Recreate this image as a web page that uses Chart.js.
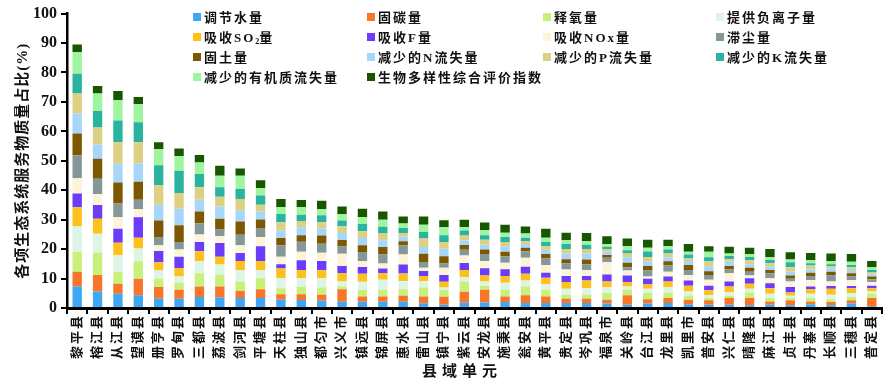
<!DOCTYPE html>
<html>
<head>
<meta charset="utf-8">
<script src="https://cdn.jsdelivr.net/npm/chart.js@4.4.1/dist/chart.umd.min.js"></script>
<style>
  html, body { margin: 0; padding: 0; background: #fff; }
  #wrap { position: relative; width: 894px; height: 381px; }
  #legend { position: absolute; left: 0; top: 0; width: 894px; height: 100px; pointer-events: none;
    font-family: "Liberation Serif", "Noto Sans CJK SC", serif; font-weight: bold; font-size: 13px; color: #111; }
  .li { position: absolute; white-space: nowrap; letter-spacing: 2px; line-height: 16px; }
  .li i { display: inline-block; width: 8px; height: 8px; margin-right: 3px; vertical-align: 1px; }
  .li sub { font-size: 8px; vertical-align: -2px; letter-spacing: 0; }
</style>
</head>
<body>
<div id="wrap">
  <canvas id="c" width="894" height="381"></canvas>
  <div id="legend"></div>
</div>
<script>
const categories = ["黎平县","榕江县","从江县","望谟县","册亨县","罗甸县","三都县","荔波县","剑河县","平塘县",
  "天柱县","独山县","都匀市","兴义市","镇远县","锦屏县","惠水县","雷山县","镇宁县","紫云县",
  "安龙县","施秉县","瓮安县","黄平县","贵定县","岑巩县","福泉市","关岭县","台江县","龙里县",
  "凯里市","普安县","兴仁县","晴隆县","麻江县","贞丰县","丹寨县","长顺县","三穗县","普定县"];

const seriesNames = ["调节水量","固碳量","释氧量","提供负离子量","吸收SO₂量","吸收F量","吸收NOx量","滞尘量",
  "固土量","减少的N流失量","减少的P流失量","减少的K流失量","减少的有机质流失量","生物多样性综合评价指数"];

const water = [7.3,5.6,4.8,4.3,3.1,3.1,3.7,3.6,3.4,3.4,2.8,2.7,2.5,2.1,2.1,2.1,2.1,1.6,1.1,1.8,1.9,2.0,1.7,1.7,1.7,1.7,1.5,1.1,1.5,1.7,1.3,1.1,1.1,0.9,1.1,0.9,1.3,0.9,1.5,0.6];
const carbon = [5.0,5.6,3.4,5.6,4.0,3.1,3.6,3.7,2.4,3.0,1.9,2.0,2.0,4.3,1.8,1.8,2.1,2.3,2.7,3.7,4.3,1.9,2.6,2.2,1.4,1.4,1.3,3.2,1.5,1.7,1.5,1.5,2.3,2.5,1.1,1.7,0.9,1.1,1.1,2.8];
const oxygen = [6.8,7.6,4.1,6.0,2.8,2.4,4.5,4.1,3.2,3.7,2.0,2.5,2.5,0.9,2.2,2.3,2.2,3.1,2.3,3.5,1.3,2.3,3.0,2.3,1.4,1.4,2.3,1.9,2.1,1.7,1.4,0.8,0.8,1.9,1.2,0.8,1.2,1.0,1.1,1.4];
const anion = [8.6,6.4,5.6,4.3,2.8,2.1,4.1,3.4,3.9,2.8,3.4,2.9,3.1,1.7,2.8,3.4,2.8,2.2,0.9,1.5,1.5,2.4,2.0,1.9,2.0,2.2,2.0,1.1,1.4,2.0,1.4,1.0,1.2,1.2,1.4,0.8,1.4,1.5,1.3,0.8];
const so2 = [6.5,5.1,4.3,3.7,2.8,2.8,3.4,2.6,3.1,3.1,3.3,2.8,2.7,2.8,2.7,2.2,2.5,1.7,1.9,2.4,2.0,2.3,2.3,2.2,2.3,2.6,1.9,1.5,1.6,1.9,2.0,1.6,1.9,1.7,1.9,1.1,1.6,2.0,1.7,1.1];
const fluor = [4.7,4.7,4.7,6.9,3.9,3.9,3.1,4.7,2.7,5.0,1.5,3.3,3.2,2.5,2.3,1.6,3.1,1.7,2.3,2.4,2.5,2.3,2.4,1.7,2.1,1.6,2.4,2.2,1.8,1.7,1.7,1.6,1.7,1.9,1.7,1.8,0.9,1.0,0.8,0.9];
const nox = [5.2,3.7,3.9,2.8,1.9,2.5,2.6,2.3,2.6,3.1,2.5,2.9,2.8,4.1,2.1,1.7,3.4,1.1,2.5,2.5,2.5,2.2,3.1,2.6,2.2,2.0,4.1,1.7,0.8,1.6,1.9,2.0,2.8,0.9,1.7,1.9,2.2,1.5,2.0,1.2];
const dust = [7.8,5.2,4.7,3.2,2.8,2.5,3.8,2.3,3.6,3.1,3.9,3.4,3.0,2.6,3.0,3.1,3.0,1.9,1.4,2.0,2.3,2.2,2.2,2.2,2.1,2.0,1.6,1.1,2.0,2.1,1.7,1.6,1.3,1.3,1.7,0.9,1.4,2.0,1.2,1.0];
const soil = [7.4,6.8,7.1,6.1,5.6,5.7,4.0,3.6,4.5,2.9,2.5,2.2,2.8,2.1,2.3,2.5,1.5,2.8,2.5,1.6,1.6,1.5,1.2,1.5,1.4,1.6,0.9,1.6,1.6,1.5,1.7,1.3,1.2,1.4,1.1,1.1,1.1,1.3,1.1,0.9];
const nLoss = [6.8,4.8,6.4,6.2,5.4,5.6,4.0,4.2,3.7,2.7,2.5,2.7,2.4,2.4,2.5,2.3,1.5,2.3,2.5,1.5,1.6,1.9,1.2,1.5,1.9,2.0,1.1,1.8,1.5,1.3,1.4,1.5,1.4,1.1,1.1,1.3,1.1,1.2,1.1,0.7];
const pLoss = [6.8,5.8,7.3,7.2,6.7,5.4,4.2,3.3,3.9,2.3,2.8,2.0,2.1,2.3,2.3,2.3,1.3,2.9,2.3,1.7,1.7,1.4,1.1,1.2,1.5,1.5,0.9,1.3,1.5,1.3,0.8,1.9,0.9,1.4,1.2,1.5,1.3,0.8,0.9,0.7];
const kLoss = [6.7,5.6,7.4,6.8,6.7,7.5,4.5,3.2,3.4,3.1,2.8,2.3,2.4,1.9,2.4,2.3,1.7,2.2,2.3,1.7,1.5,1.7,1.1,1.4,1.7,1.5,0.8,1.1,1.9,1.4,1.4,1.3,1.1,1.1,1.1,1.7,0.8,0.6,0.8,0.8];
const organicLoss = [7.3,6.0,6.9,6.1,5.5,5.0,3.9,3.9,4.5,2.5,2.4,2.5,2.1,2.2,2.4,2.4,1.5,2.5,2.7,1.2,1.7,1.5,1.4,1.5,1.3,1.2,0.9,1.5,1.3,1.1,0.9,1.9,0.8,1.0,0.9,1.0,1.1,1.1,1.1,0.9];
const biodiversity = [2.6,2.5,3.1,2.5,2.3,2.6,2.6,3.4,2.5,2.7,2.7,2.5,2.8,2.6,2.8,2.8,2.4,2.8,2.4,2.5,2.6,2.7,2.4,3.0,2.6,2.8,2.7,2.5,2.7,2.2,2.6,1.9,2.3,2.2,2.8,2.4,2.4,2.5,2.6,2.2];

const yTicks = [0,10,20,30,40,50,60,70,80,90,100];

const seriesValues = [water, carbon, oxygen, anion, so2, fluor, nox, dust, soil, nLoss, pLoss, kLoss, organicLoss, biodiversity];
const colors = ["#3ea8f4","#f7762a","#c8f07a","#ddf5e4","#fdc01d","#6b3cf9","#fbf4d8","#869797",
  "#7d5800","#a6d6f9","#dcd183","#2bb3a2","#9ef59d","#175700"];

const FONT = '"Liberation Serif", "Noto Sans CJK SC", serif';

const datasets = seriesNames.map((n, i) => ({
  label: n,
  data: seriesValues[i],
  backgroundColor: colors[i],
  borderWidth: 0,
  barPercentage: 0.46,
  categoryPercentage: 1.0
}));

// HTML legend
const legendPos = [193, 367, 543, 716];
const legendRows = [18, 38, 58, 78];
const lg = document.getElementById('legend');
seriesNames.forEach((n, i) => {
  const d = document.createElement('div');
  d.className = 'li';
  d.style.left = legendPos[i % 4] + 'px';
  d.style.top = (legendRows[Math.floor(i / 4)] - 8) + 'px';
  const label = n.replace('SO₂', 'SO<sub>2</sub>');
  d.innerHTML = '<i style="background:' + colors[i] + '"></i>' + label;
  lg.appendChild(d);
});

const spacingPlugin = {
  id: 'spacing',
  afterLayout(chart) {
    const ctx = chart.ctx;
    const sx = chart.scales.x, sy = chart.scales.y;
    if (sx && !sx._patched) {
      const orig = sx.drawLabels.bind(sx);
      sx.drawLabels = function (area) { ctx.save(); ctx.letterSpacing = '2px'; orig(area); ctx.restore(); };
      sx._patched = true;
    }
    if (sy && !sy._patched) {
      const origT = sy.drawTitle.bind(sy);
      sy.drawTitle = function (area) { ctx.save(); ctx.letterSpacing = '1px'; origT(area); ctx.restore(); };
      sy._patched = true;
    }
  }
};

const xTitlePlugin = {
  id: 'xTitle',
  afterDraw(chart) {
    const ctx = chart.ctx;
    ctx.save();
    ctx.font = 'bold 15px ' + FONT;
    ctx.letterSpacing = '5px';
    ctx.fillStyle = '#111';
    ctx.textAlign = 'center';
    ctx.textBaseline = 'middle';
    ctx.fillText('县域单元', 462, 372);
    ctx.restore();
  }
};

new Chart(document.getElementById('c'), {
  type: 'bar',
  data: { labels: categories, datasets },
  options: {
    responsive: false,
    animation: false,
    layout: { padding: { top: 11, right: 12, left: 0, bottom: 0 } },
    plugins: { legend: { display: false }, tooltip: { enabled: false } },
    scales: {
      x: {
        stacked: true,
        offset: true,
        border: { display: true, color: '#000', width: 3 },
        grid: { display: true, drawOnChartArea: false, offset: true, tickLength: 6, color: '#000', lineWidth: 2 },
        ticks: { minRotation: 90, maxRotation: 90, autoSkip: false, padding: 0, color: '#111',
          font: { family: FONT, size: 13, weight: 'bold' } },
        afterFit(scale) { scale.height = 73; }
      },
      y: {
        stacked: true,
        min: 0, max: 100,
        afterBuildTicks(scale) { scale.ticks = yTicks.map(v => ({ value: v })); },
        border: { display: true, color: '#000', width: 2.5 },
        grid: { display: true, drawOnChartArea: false, tickLength: 6, color: '#000', lineWidth: 2 },
        ticks: { padding: 4, color: '#111', font: { family: FONT, size: 16, weight: 'bold' } },
        title: { display: true, text: '各项生态系统服务物质量占比(%)', color: '#111',
          font: { family: FONT, size: 15, weight: 'bold' }, padding: { top: 14, bottom: 0 } },
        afterFit(scale) { scale.width = 67; }
      }
    }
  },
  plugins: [spacingPlugin, xTitlePlugin]
});
</script>
</body>
</html>
